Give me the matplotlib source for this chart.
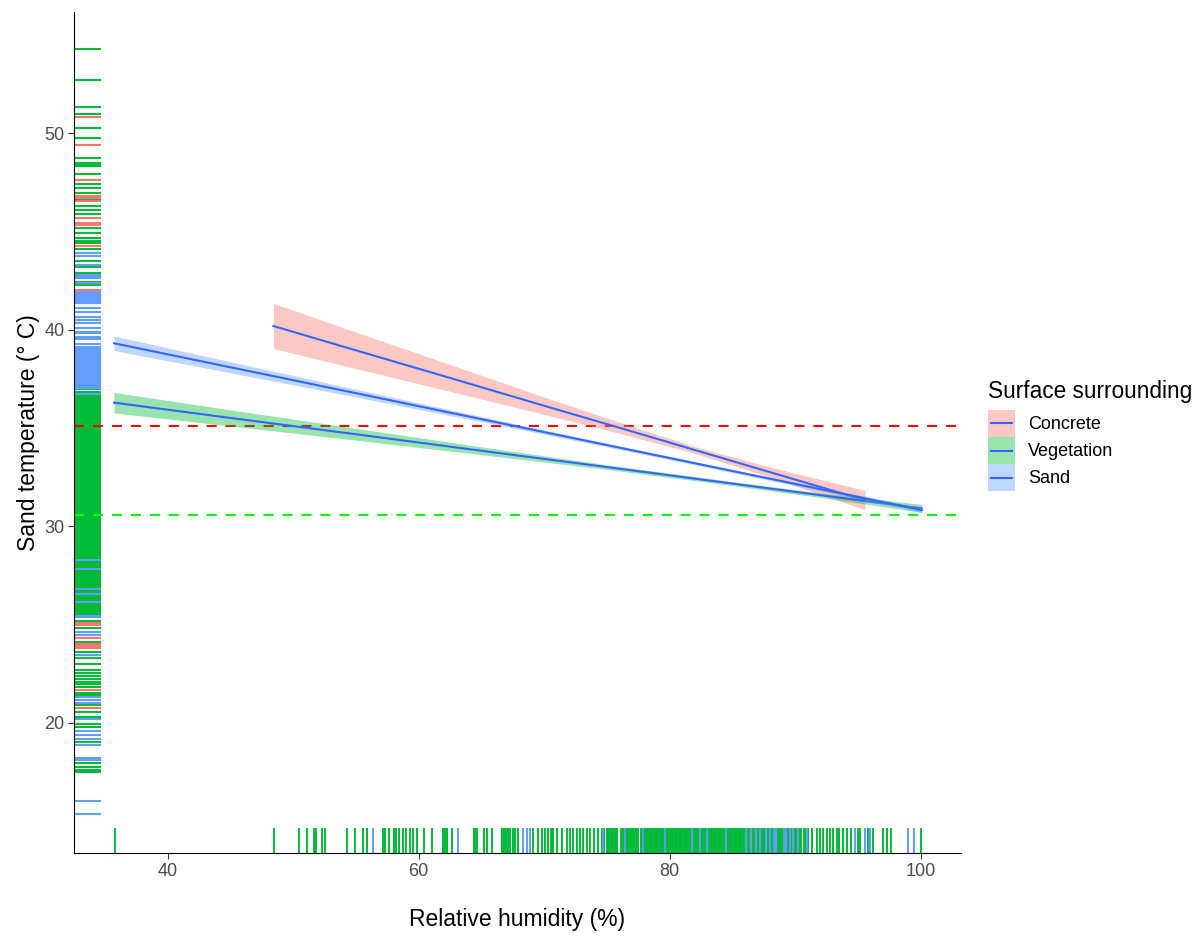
import matplotlib
matplotlib.use("Agg")
import matplotlib.pyplot as plt
from matplotlib.legend_handler import HandlerBase
from matplotlib.lines import Line2D
from matplotlib.patches import Patch, Rectangle
from matplotlib.transforms import blended_transform_factory

plt.rcParams["font.family"] = ["Liberation Sans", "DejaVu Sans"]

# ---- data ----
groups = ["Concrete", "Vegetation", "Sand"]
group_colors = {"Concrete": "#F8766D", "Vegetation": "#00BA38", "Sand": "#619CFF"}

# linear fits with confidence band (x, fit, lower, upper)
concrete_x = [48.42, 55, 62, 70, 76, 82, 88, 95.56]
concrete_fit = [40.18, 38.94, 37.63, 36.12, 35.00, 33.87, 32.74, 31.32]
concrete_lo = [39.03, 38.01, 36.93, 35.68, 34.72, 33.70, 32.48, 30.83]
concrete_hi = [41.33, 39.87, 38.33, 36.56, 35.28, 34.04, 33.00, 31.81]

vegetation_x = [35.72, 45, 55, 65, 75, 85, 92, 100.08]
vegetation_fit = [36.28, 35.50, 34.67, 33.83, 33.00, 32.16, 31.57, 30.90]
vegetation_lo = [35.76, 35.09, 34.37, 33.63, 32.88, 32.06, 31.45, 30.70]
vegetation_hi = [36.80, 35.91, 34.97, 34.03, 33.12, 32.26, 31.69, 31.10]

sand_x = [35.72, 45, 55, 65, 75, 85, 92, 100.08]
sand_fit = [39.30, 38.08, 36.76, 35.44, 34.12, 32.80, 31.88, 30.81]
sand_lo = [38.93, 37.80, 36.56, 35.31, 34.03, 32.72, 31.79, 30.68]
sand_hi = [39.67, 38.36, 36.96, 35.57, 34.21, 32.88, 31.97, 30.94]

# reference temperatures (dashed lines)
ref_red = 35.09
ref_green = 30.56

# rug: sand temperature observations by surrounding
rug_y_vegetation = [
    54.26, 52.7, 51.3, 50.97, 50.24, 49.76, 48.74, 48.5, 48.4, 48.3, 47.9, 47.6,
    47.4, 47.2, 46.96, 46.62, 46.3, 46.08, 45.9, 45.7, 45.15, 44.9, 44.64, 44.5,
    44.4, 44.08, 43.5, 43.2, 42.9, 42.4, 42.26, 36.96, 36.8,
    25.4, 25.5, 25.6, 25.7, 25.8, 25.9, 26.0, 26.1, 26.2, 26.3, 26.4, 26.5,
    26.6, 26.7, 26.8, 26.9, 27.0, 27.1, 27.2, 27.3, 27.4, 27.5, 27.6, 27.7,
    27.8, 27.9, 28.0, 28.1, 28.2, 28.3, 28.4, 28.5, 28.6, 28.7, 28.8, 28.9,
    29.0, 29.1, 29.2, 29.3, 29.4, 29.5, 29.6, 29.7, 29.8, 29.9, 30.0, 30.1,
    30.2, 30.3, 30.4, 30.5, 30.6, 30.7, 30.8, 30.9, 31.0, 31.1, 31.2, 31.3,
    31.4, 31.5, 31.6, 31.7, 31.8, 31.9, 32.0, 32.1, 32.2, 32.3, 32.4, 32.5,
    32.6, 32.7, 32.8, 32.9, 33.0, 33.1, 33.2, 33.3, 33.4, 33.5, 33.6, 33.7,
    33.8, 33.9, 34.0, 34.1, 34.2, 34.3, 34.4, 34.5, 34.6, 34.7, 34.8, 34.9,
    35.0, 35.1, 35.2, 35.3, 35.4, 35.5, 35.6, 35.7, 35.8, 35.9, 36.0, 36.1,
    36.2, 36.3, 36.4, 36.5, 36.6,
    25.18, 24.83, 24.45, 24.1, 23.6, 23.27, 22.98, 22.67, 22.5, 22.36, 22.24,
    22.07, 21.95, 21.8, 21.52, 21.4, 20.9, 20.52, 20.26, 19.9, 19.76, 19.02,
    17.92, 17.75, 17.58, 17.46,
]
rug_y_concrete = [
    50.83, 49.39, 47.6, 46.8, 46.7, 46.55, 45.7, 45.4, 45.3, 44.25, 42.0,
    25.05, 24.95, 24.3, 24.0, 23.9, 23.8, 23.44, 21.65, 20.72,
]
rug_y_sand = [
    43.9, 43.75, 43.3, 42.8, 42.65, 42.6, 42.35, 41.92, 41.85, 41.75, 41.65,
    41.55, 41.45, 41.35, 41.1, 40.9, 40.63, 40.5, 40.35, 40.1, 39.9, 39.8,
    39.6, 39.5, 39.26,
    37.0, 37.1, 37.2, 37.3, 37.4, 37.5, 37.6, 37.7, 37.8, 37.9, 38.0, 38.1,
    38.2, 38.3, 38.4, 38.5, 38.6, 38.7, 38.8, 38.9, 39.0, 39.1,
    36.7, 28.27, 27.8, 26.8, 26.52, 26.15, 25.43, 25.35, 24.6, 24.45, 23.44,
    21.28, 21.15, 21.0, 20.18, 19.57, 19.36, 19.16, 18.84, 18.2, 18.15, 18.1,
    16.02, 15.33,
]

# rug: relative humidity observations
rug_x_vegetation = [
    35.78, 48.47, 50.46, 51.12, 51.66, 51.82, 52.27, 52.53, 54.26, 54.92,
    55.59, 55.91, 57.13, 57.32, 57.66, 58.03, 58.2, 58.46, 58.78, 58.99, 59.3,
    59.57, 59.89, 60.42, 61.04, 61.96, 62.05, 62.15, 62.28, 62.63, 64.41,
    64.5, 64.62, 65.2, 65.42, 65.82, 66.6, 66.8, 66.95, 67.1, 67.3, 67.5,
    67.7, 67.9, 69.13, 69.5, 69.8, 70.08, 70.34, 70.5, 70.73, 71.0, 71.4,
    71.8, 72.06, 72.33, 72.6, 72.86, 73.1, 73.4, 73.67, 73.93, 74.3,
    74.6, 74.7, 74.8, 75.0, 75.1, 75.2, 75.3, 75.4, 75.5, 75.6, 75.7, 75.8,
    76.1, 76.2, 76.3, 76.4, 76.5, 76.6, 76.7, 76.8, 76.9, 77.0, 77.1, 77.2,
    77.3, 77.4, 77.5, 77.7, 77.8, 77.9, 78.0, 78.1, 78.2, 78.3, 78.4, 78.5,
    78.6, 78.7, 78.8, 78.9, 79.0, 79.1, 79.2, 79.3, 79.4, 79.5, 79.6, 79.7,
    79.8, 79.9, 80.0, 80.1, 80.2, 80.3, 80.4, 80.5, 80.6, 80.7, 80.8, 80.9,
    81.0, 81.1, 81.2, 81.3, 81.4, 81.5, 81.6, 81.7, 81.8, 81.9, 82.0, 82.1,
    82.2, 82.3, 82.4, 82.5, 82.6, 82.7, 82.8, 82.9, 83.0, 83.1, 83.2, 83.3,
    83.4, 83.5, 83.6, 83.7, 83.8, 83.9, 84.0, 84.1, 84.2, 84.3, 84.4, 84.5,
    84.6, 84.7, 84.8, 84.9, 85.0, 85.1, 85.2, 85.3, 85.4, 85.5, 85.6, 85.7,
    85.8, 85.9, 86.0, 86.2, 86.3, 86.4, 86.6, 86.7, 86.8, 87.0, 87.1, 87.3,
    87.4, 87.5, 87.6, 87.8, 87.9, 88.1, 88.2, 88.4, 88.6, 88.7, 88.8, 88.9,
    89.0, 89.2, 89.4, 89.5, 89.7, 89.8, 90.0, 90.1, 90.3, 90.4, 90.5, 90.7,
    90.8, 91.05, 91.3, 91.7, 91.97, 92.23, 92.5, 92.77, 93.03, 93.3, 93.5,
    93.83, 94.1, 94.42, 95.03, 95.17, 95.82, 96.18, 97.02, 97.3, 97.6, 100.0,
]
rug_x_sand = [
    56.33, 63.11, 68.34, 68.6, 68.87, 74.71, 76.44, 77.9, 79.6, 81.75, 82.4,
    83.0, 84.5, 86.1, 86.5, 86.9, 87.2, 87.7, 88.0, 88.3, 88.5, 89.1, 89.3,
    89.6, 89.85, 90.25, 90.92, 94.77, 95.56, 95.96, 99.0, 99.47,
]

x_ticks = [40, 60, 80, 100]
y_ticks = [20, 30, 40, 50]

SMOOTH_COLOR = "#3366FF"
RIBBON_ALPHA = 0.4
RUG_LEN = 0.03


class SmoothKey(HandlerBase):
    """ggplot-like legend key: filled ribbon square with the fit line across."""

    def create_artists(self, legend, orig_handle, xdescent, ydescent,
                       width, height, fontsize, trans):
        rect = Rectangle((-xdescent, -ydescent), width, height,
                         facecolor=orig_handle.get_facecolor(),
                         edgecolor="none", transform=trans)
        line = Line2D([-xdescent + 0.12 * width, -xdescent + 0.88 * width],
                      [-ydescent + height / 2] * 2,
                      color=SMOOTH_COLOR, lw=1.5, transform=trans)
        return [rect, line]


fig = plt.figure(figsize=(12.04, 9.38), dpi=100)
ax = fig.add_axes([74 / 1204, 85 / 938, 887 / 1204, 841 / 938])
ax.set_xlim(32.53, 103.21)
ax.set_ylim(13.36, 56.16)

# rugs
ytrans = blended_transform_factory(ax.transAxes, ax.transData)
xtrans = blended_transform_factory(ax.transData, ax.transAxes)
for vals, g in [(rug_y_vegetation, "Vegetation"), (rug_y_concrete, "Concrete"),
                (rug_y_sand, "Sand")]:
    ax.hlines(vals, 0, RUG_LEN, transform=ytrans, colors=group_colors[g],
              lw=1.5, zorder=1)
for vals, g in [(rug_x_vegetation, "Vegetation"), (rug_x_sand, "Sand")]:
    ax.vlines(vals, 0, RUG_LEN, transform=xtrans, colors=group_colors[g],
              lw=1.4, zorder=1)

# reference lines
ax.axhline(ref_red, color="#FF0000", lw=1.5, dashes=(4.8, 4.3), zorder=2)
ax.axhline(ref_green, color="#00FF00", lw=1.5, dashes=(4.8, 4.3), zorder=2)

# fits
fits = [
    ("Concrete", concrete_x, concrete_fit, concrete_lo, concrete_hi),
    ("Vegetation", vegetation_x, vegetation_fit, vegetation_lo, vegetation_hi),
    ("Sand", sand_x, sand_fit, sand_lo, sand_hi),
]
for i, (g, xs, fit, lo, hi) in enumerate(fits):
    ax.fill_between(xs, lo, hi, color=group_colors[g], alpha=RIBBON_ALPHA,
                    lw=0, zorder=3 + 2 * i)
    ax.plot(xs, fit, color=SMOOTH_COLOR, lw=1.5, zorder=4 + 2 * i)

# axes styling, theme_classic look
for side in ("top", "right"):
    ax.spines[side].set_visible(False)
for side in ("left", "bottom"):
    ax.spines[side].set_color("black")
    ax.spines[side].set_linewidth(0.8)
ax.set_xticks(x_ticks)
ax.set_yticks(y_ticks)
ax.tick_params(length=4, width=0.8, color="#333333", labelcolor="#4D4D4D",
               labelsize=13, pad=3)
ax.set_xlabel("Relative humidity (%)", fontsize=16.5, labelpad=20)
ax.set_ylabel("Sand temperature (° C)", fontsize=16.5, labelpad=3)

handles = [Patch(facecolor=group_colors[g], alpha=RIBBON_ALPHA) for g in groups]
leg = fig.legend(handles, groups, handler_map={Patch: SmoothKey()},
                 loc="upper left", bbox_to_anchor=(988 / 1204, 1 - 380 / 938),
                 frameon=False, title="Surface surrounding", fontsize=13,
                 title_fontsize=16.3, handlelength=1.5, handleheight=1.93,
                 labelspacing=0, handletextpad=0.7, borderpad=0,
                 borderaxespad=0, alignment="left")
# small gap between the title and the keys
leg._legend_box.sep = 5

fig.savefig("out.png", dpi=100, facecolor="white")
